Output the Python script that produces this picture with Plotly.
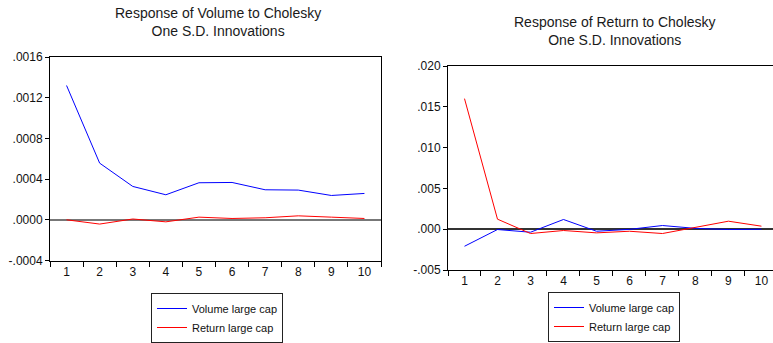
import plotly.graph_objects as go

periods = ["1", "2", "3", "4", "5", "6", "7", "8", "9", "10"]

# Response of Volume
vol_to_volume = [0.00132, 0.000557, 0.000328, 0.000246, 0.000364, 0.000367, 0.000295, 0.000292, 0.000239, 0.000259]
vol_to_return = [0.0, -0.000042, 0.000008, -0.00002, 0.000026, 0.000013, 0.00002, 0.000039, 0.000026, 0.000013]

# Response of Return
ret_to_volume = [-0.00209, -0.00004, -0.00037, 0.00119, -0.00025, -0.00002, 0.00045, 0.0001, -0.00004, -0.00001]
ret_to_return = [0.0160, 0.00123, -0.00053, -0.00016, -0.00045, -0.00025, -0.00053, 0.0002, 0.00098, 0.00037]

left_ticks = [-0.0004, 0.0, 0.0004, 0.0008, 0.0012, 0.0016]
left_ticktext = ["-.0004", ".0000", ".0004", ".0008", ".0012", ".0016"]
right_ticks = [-0.005, 0.0, 0.005, 0.010, 0.015, 0.020]
right_ticktext = ["-.005", ".000", ".005", ".010", ".015", ".020"]

names = ["Volume large cap", "Return large cap"]
colors = ["#0000FF", "#FF0000"]
FONT = "Liberation Sans, Arial, sans-serif"

fig = go.Figure()
fig.add_trace(go.Scatter(x=periods, y=vol_to_volume, mode="lines", name=names[0],
                         line=dict(color=colors[0], width=1), xaxis="x", yaxis="y", legend="legend"))
fig.add_trace(go.Scatter(x=periods, y=vol_to_return, mode="lines", name=names[1],
                         line=dict(color=colors[1], width=1), xaxis="x", yaxis="y", legend="legend"))
fig.add_trace(go.Scatter(x=periods, y=ret_to_volume, mode="lines", name=names[0],
                         line=dict(color=colors[0], width=1), xaxis="x2", yaxis="y2", legend="legend2"))
fig.add_trace(go.Scatter(x=periods, y=ret_to_return, mode="lines", name=names[1],
                         line=dict(color=colors[1], width=1), xaxis="x2", yaxis="y2", legend="legend2"))

W, H = 773, 343
axis_common = dict(showline=True, linecolor="black", linewidth=1, showgrid=False,
                   ticks="outside", tickcolor="black", tickwidth=1, automargin=False,
                   tickfont=dict(size=12, color="#111", family=FONT))

fig.update_layout(
    template="none",
    width=W, height=H,
    margin=dict(l=0, r=0, t=0, b=0, pad=0),
    paper_bgcolor="white", plot_bgcolor="white",
    font=dict(family=FONT, color="#111"),
    xaxis=dict(axis_common, type="category", categoryorder="array", categoryarray=periods,
               domain=[50 / W, 381 / W], range=[-0.5, 9.5], tickson="boundaries",
               ticklen=5, mirror=True, anchor="y", zeroline=False),
    yaxis=dict(axis_common, domain=[(H - 260.5) / H, (H - 57) / H], range=[-0.0004, 0.0016],
               tickvals=left_ticks, ticktext=left_ticktext, ticklen=4, mirror=True,
               anchor="x", zeroline=True, zerolinecolor="#777", zerolinewidth=1.5),
    xaxis2=dict(axis_common, type="category", categoryorder="array", categoryarray=periods,
                domain=[448 / W, 1.0], range=[-0.5, 9.35], tickson="boundaries",
                ticklen=5, mirror=True, anchor="y2", zeroline=False),
    yaxis2=dict(axis_common, domain=[(H - 270) / H, (H - 66) / H], range=[-0.005, 0.020],
                tickvals=right_ticks, ticktext=right_ticktext, ticklen=4, mirror=False,
                anchor="x2", zeroline=True, zerolinecolor="#333", zerolinewidth=1.5),
    legend=dict(x=151 / W, y=(H - 293) / H, xanchor="left", yanchor="top",
                bordercolor="#222", borderwidth=1, bgcolor="white",
                font=dict(size=11, family=FONT, color="#111"), itemwidth=30),
    legend2=dict(x=548 / W, y=1.0 / H, xanchor="left", yanchor="bottom",
                 bordercolor="#222", borderwidth=1, bgcolor="white",
                 font=dict(size=11, family=FONT, color="#111"), itemwidth=30),
    showlegend=True,
)

fig.add_annotation(text="Response of Volume to Cholesky<br>One S.D. Innovations",
                   xref="paper", yref="paper", x=218 / W, y=(H - 21.5) / H,
                   xanchor="center", yanchor="middle", showarrow=False,
                   font=dict(size=14, family=FONT, color="#1a1a1a"))
fig.add_annotation(text="Response of Return to Cholesky<br>One S.D. Innovations",
                   xref="paper", yref="paper", x=615 / W, y=(H - 30.5) / H,
                   xanchor="center", yanchor="middle", showarrow=False,
                   font=dict(size=14, family=FONT, color="#1a1a1a"))

fig.write_html("out.html")
